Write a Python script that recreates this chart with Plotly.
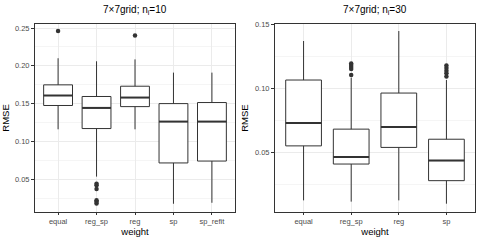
import plotly.graph_objects as go

# ---------------- data ----------------
left_cats = ["equal", "reg_sp", "reg", "sp", "sp_refit"]
left_lower = [0.116, 0.0534, 0.116, 0.0175, 0.0188]
left_q1 = [0.1475, 0.117, 0.146, 0.0715, 0.074]
left_med = [0.1607, 0.1443, 0.158, 0.1262, 0.1262]
left_q3 = [0.1748, 0.1594, 0.173, 0.150, 0.1514]
left_upper = [0.210, 0.206, 0.2085, 0.191, 0.191]
left_out_cat = ["equal", "reg_sp", "reg_sp", "reg_sp", "reg_sp", "reg_sp", "reg_sp", "reg"]
left_out_val = [0.246, 0.044, 0.042, 0.037, 0.022, 0.020, 0.018, 0.240]

right_cats = ["equal", "reg_sp", "reg", "sp"]
right_lower = [0.0126, 0.0116, 0.0126, 0.010]
right_q1 = [0.0552, 0.041, 0.054, 0.028]
right_med = [0.0730, 0.0466, 0.070, 0.0437]
right_q3 = [0.1067, 0.0683, 0.0965, 0.0604]
right_upper = [0.1372, 0.1085, 0.145, 0.1067]
right_out_cat = ["reg_sp"] * 5 + ["sp"] * 5
right_out_val = [0.1196, 0.1184, 0.1169, 0.1153, 0.1106,
                 0.118, 0.116, 0.114, 0.112, 0.1094]

titles = ["7\u00d77grid; n<sub>i</sub>=10", "7\u00d77grid; n<sub>i</sub>=30"]

# ---------------- figure ----------------
LINE = "#333333"
BOXW = 0.75
FONT = "Liberation Sans, Arial, sans-serif"
fig = go.Figure()


def add_panel(cats, lo, q1, med, q3, up, oc, ov, xa, ya):
    xs = list(range(len(cats)))
    fig.add_trace(go.Box(
        x=xs, q1=q1, median=med, q3=q3, lowerfence=lo, upperfence=up,
        width=BOXW, fillcolor="white", line=dict(color=LINE, width=1),
        whiskerwidth=0, boxpoints=False, hoverinfo="skip",
        xaxis=xa, yaxis=ya, showlegend=False))
    # thicker median lines
    mx, my = [], []
    for i, m in enumerate(med):
        mx += [i - BOXW / 2, i + BOXW / 2, None]
        my += [m, m, None]
    fig.add_trace(go.Scatter(x=mx, y=my, mode="lines",
                             line=dict(color=LINE, width=2),
                             xaxis=xa, yaxis=ya, showlegend=False,
                             hoverinfo="skip"))
    ox = [cats.index(c) for c in oc]
    fig.add_trace(go.Scatter(x=ox, y=ov, mode="markers",
                             marker=dict(color=LINE, size=4.5),
                             xaxis=xa, yaxis=ya, showlegend=False,
                             hoverinfo="skip"))


add_panel(left_cats, left_lower, left_q1, left_med, left_q3, left_upper,
          left_out_cat, left_out_val, "x", "y")
add_panel(right_cats, right_lower, right_q1, right_med, right_q3, right_upper,
          right_out_cat, right_out_val, "x2", "y2")

W, H = 480, 240
top, bot = 24, 212
ydom = [(H - bot) / H, (H - top) / H]

tickfont = dict(family=FONT, size=7.5, color="#4D4D4D")
titlefont = dict(family=FONT, size=9.5, color="black")

common_x = dict(showline=True, mirror=True, linecolor=LINE, linewidth=1,
                ticks="outside", ticklen=2, tickcolor=LINE, tickfont=tickfont,
                showgrid=True, gridcolor="#EBEBEB", gridwidth=1, zeroline=False,
                title=dict(text="weight", font=titlefont, standoff=0))
common_y = dict(showline=True, mirror=True, linecolor=LINE, linewidth=1,
                ticks="outside", ticklen=3, tickcolor=LINE, tickfont=tickfont,
                showgrid=True, gridcolor="#EBEBEB", gridwidth=1, zeroline=False,
                tickformat=".2f", dtick=0.05,
                minor=dict(dtick=0.025, showgrid=True, gridcolor="#F5F5F5",
                           gridwidth=0.6),
                title=dict(text="RMSE", font=titlefont, standoff=4))

fig.update_layout(
    template="none",
    width=W, height=H, autosize=False,
    margin=dict(l=0, r=0, t=0, b=0, pad=0),
    paper_bgcolor="white", plot_bgcolor="white",
    font=dict(family=FONT, color="#4D4D4D"),
    xaxis=dict(domain=[35 / W, 235 / W], anchor="y",
               range=[-0.6, len(left_cats) - 0.4],
               tickvals=list(range(len(left_cats))), ticktext=left_cats,
               **common_x),
    yaxis=dict(domain=ydom, anchor="x", range=[0.0066, 0.2553],
               tick0=0.05, **common_y),
    xaxis2=dict(domain=[275 / W, 475 / W], anchor="y2",
                range=[-0.6, len(right_cats) - 0.4],
                tickvals=list(range(len(right_cats))), ticktext=right_cats,
                **common_x),
    yaxis2=dict(domain=ydom, anchor="x2", range=[0.0035, 0.1505],
                tick0=0.05, **common_y),
    annotations=[
        dict(text=titles[0], x=135 / W, y=1 - 10 / H, xref="paper", yref="paper",
             showarrow=False, xanchor="center", yanchor="middle",
             font=dict(family=FONT, size=10, color="black")),
        dict(text=titles[1], x=375 / W, y=1 - 10 / H, xref="paper", yref="paper",
             showarrow=False, xanchor="center", yanchor="middle",
             font=dict(family=FONT, size=10, color="black")),
    ],
)

fig.write_html("out.html",
               config={"displayModeBar": False},
               post_script="document.body.style.margin='0';document.body.style.padding='0';")
